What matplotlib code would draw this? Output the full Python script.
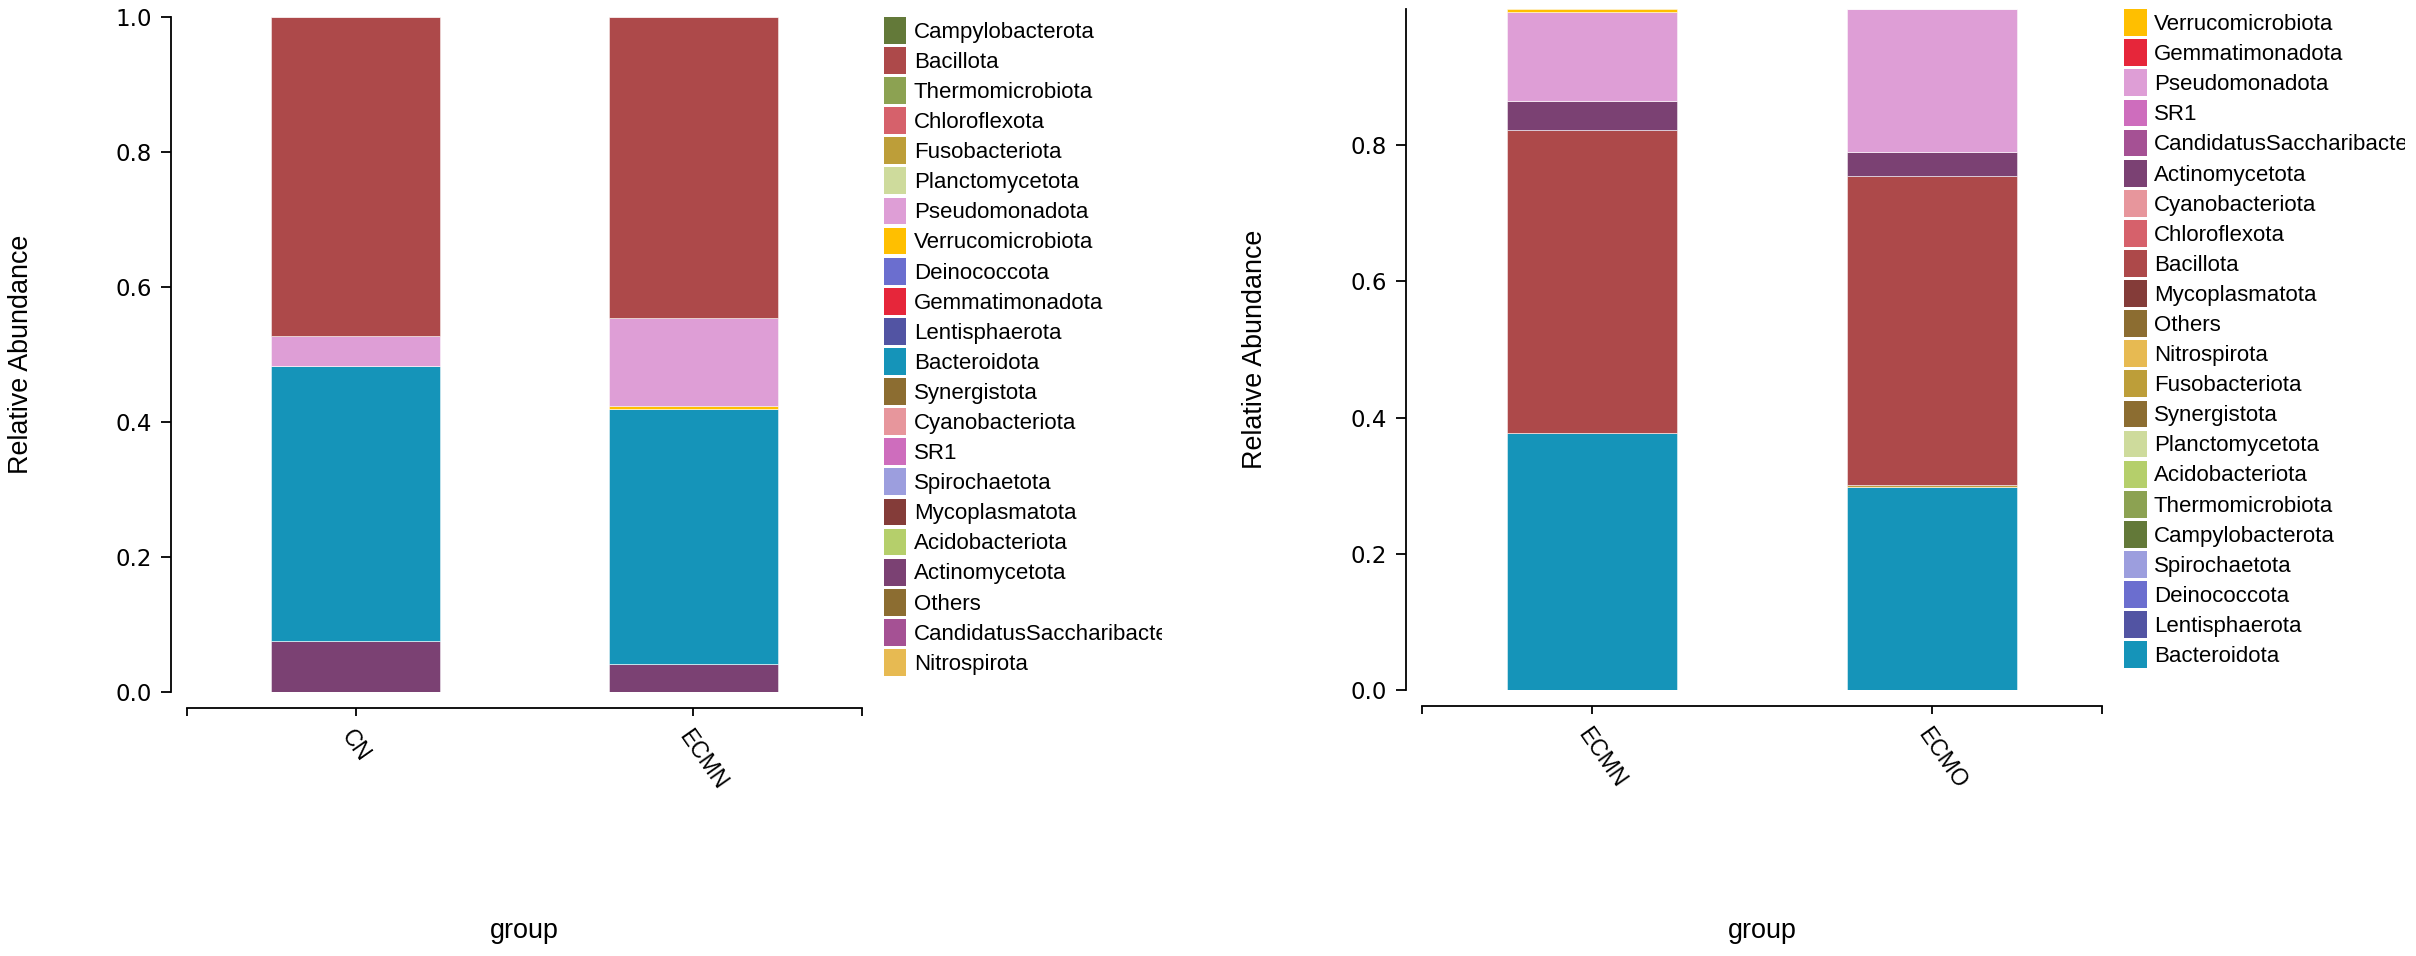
import matplotlib
matplotlib.use("Agg")
import matplotlib.pyplot as plt
from matplotlib.patches import Patch
from matplotlib.transforms import Bbox

# 1. Data (relative abundance per group)
groups = ["CN", "ECMN", "ECMO"]

bacillota = [0.473, 0.446, 0.454]
bacteroidota = [0.4075, 0.377, 0.2985]
pseudomonadota = [0.0445, 0.131, 0.2096]
actinomycetota = [0.075, 0.042, 0.0355]
verrucomicrobiota = [0.0, 0.004, 0.0]
fusobacteriota = [0.0, 0.0, 0.002]
tiny = [0.0, 0.0, 0.0]  # phyla too small to see in either panel

abund = {
    "Campylobacterota": tiny, "Bacillota": bacillota, "Thermomicrobiota": tiny,
    "Chloroflexota": tiny, "Fusobacteriota": fusobacteriota, "Planctomycetota": tiny,
    "Pseudomonadota": pseudomonadota, "Verrucomicrobiota": verrucomicrobiota,
    "Deinococcota": tiny, "Gemmatimonadota": tiny, "Lentisphaerota": tiny,
    "Bacteroidota": bacteroidota, "Synergistota": tiny, "Cyanobacteriota": tiny,
    "SR1": tiny, "Spirochaetota": tiny, "Mycoplasmatota": tiny,
    "Acidobacteriota": tiny, "Actinomycetota": actinomycetota, "Others": tiny,
    "CandidatusSaccharibacteria": tiny, "Nitrospirota": tiny,
}

colors = {
    "Campylobacterota": "#637939", "Bacillota": "#ad494a", "Thermomicrobiota": "#8ca252",
    "Chloroflexota": "#d6616b", "Fusobacteriota": "#bd9e39", "Planctomycetota": "#cedb9c",
    "Pseudomonadota": "#de9ed6", "Verrucomicrobiota": "#ffbf00", "Deinococcota": "#6b6ecf",
    "Gemmatimonadota": "#e6263a", "Lentisphaerota": "#5254a3", "Bacteroidota": "#1594b9",
    "Synergistota": "#8c6d31", "Cyanobacteriota": "#e7969c", "SR1": "#ce6dbd",
    "Spirochaetota": "#9c9ede", "Mycoplasmatota": "#843c39", "Acidobacteriota": "#b5cf6b",
    "Actinomycetota": "#7b4173", "Others": "#8c6d31", "CandidatusSaccharibacteria": "#a55194",
    "Nitrospirota": "#e7ba52",
}

# legend order, top to bottom (stack order is the reverse)
left_legend = ["Campylobacterota", "Bacillota", "Thermomicrobiota", "Chloroflexota",
               "Fusobacteriota", "Planctomycetota", "Pseudomonadota", "Verrucomicrobiota",
               "Deinococcota", "Gemmatimonadota", "Lentisphaerota", "Bacteroidota",
               "Synergistota", "Cyanobacteriota", "SR1", "Spirochaetota", "Mycoplasmatota",
               "Acidobacteriota", "Actinomycetota", "Others", "CandidatusSaccharibacteria",
               "Nitrospirota"]
right_legend = ["Verrucomicrobiota", "Gemmatimonadota", "Pseudomonadota", "SR1",
                "CandidatusSaccharibacteria", "Actinomycetota", "Cyanobacteriota",
                "Chloroflexota", "Bacillota", "Mycoplasmatota", "Others", "Nitrospirota",
                "Fusobacteriota", "Synergistota", "Planctomycetota", "Acidobacteriota",
                "Thermomicrobiota", "Campylobacterota", "Spirochaetota", "Deinococcota",
                "Lentisphaerota", "Bacteroidota"]

plt.rcParams["font.family"] = ["Liberation Sans", "DejaVu Sans"]

W, H = 2416, 956
fig = plt.figure(figsize=(W / 100, H / 100), dpi=100)


def panel(rect, grp, legend_order, ytop, clip_x):
    ax = fig.add_axes(rect)
    # spines first: set_position resets the tick objects
    for s in ["top", "right"]:
        ax.spines[s].set_visible(False)
    for s in ["left", "bottom"]:
        ax.spines[s].set_position(("outward", 11.5))
        ax.spines[s].set_linewidth(1.3)

    idx = [groups.index(g) for g in grp]
    x = list(range(len(grp)))
    bottom = [0.0] * len(grp)
    for name in reversed(legend_order):
        vals = [abund[name][i] for i in idx]
        ax.bar(x, vals, width=0.5, bottom=bottom, color=colors[name],
               edgecolor=(1, 1, 1, 0.55), linewidth=0.6)
        bottom = [b + v for b, v in zip(bottom, vals)]

    ax.set_xlim(-0.5, len(grp) - 0.5)
    ax.set_ylim(0, ytop)
    yt = [t for t in [0.0, 0.2, 0.4, 0.6, 0.8, 1.0] if t <= ytop]
    ax.set_yticks(yt)
    ax.set_yticklabels([f"{t:.1f}" for t in yt], fontfamily="DejaVu Sans", fontsize=16.5)
    ax.set_xticks(x)
    ax.set_xticklabels(grp, rotation=-55, ha="left", va="top",
                       rotation_mode="anchor", fontsize=16.5)
    ax.set_xticks([-0.5, len(grp) - 0.5], minor=True)

    ax.tick_params(axis="y", length=7, width=1.3, pad=7)
    ax.tick_params(axis="x", which="both", length=5.8, width=1.3, pad=7)

    ax.set_ylabel("Relative Abundance", fontsize=19.4, va="center")
    ax.yaxis.set_label_coords(-0.246, 0.5)
    ax.set_xlabel("group", fontsize=19.4, va="center")
    ax.xaxis.set_label_coords(0.5, -0.354)

    handles = [Patch(facecolor=colors[n]) for n in legend_order]
    leg = ax.legend(handles, legend_order, loc="upper left", bbox_to_anchor=(1.032, 1.0),
                    frameon=False, fontsize=16, borderpad=0, borderaxespad=0,
                    handlelength=1.03, handleheight=1.479, labelspacing=0.148,
                    handletextpad=0.33)
    # the long name is cut at the edge of each panel, as in the reference
    for t in leg.get_texts():
        t.set_clip_box(Bbox.from_extents(0, 0, clip_x, H))
        t.set_clip_on(True)
    return ax


panel([187 / W, 1 - 692 / H, 675 / W, 675 / H], ["CN", "ECMN"], left_legend, 1.0, 1162)
panel([1422 / W, 1 - 690 / H, 680 / W, 680.7 / H], ["ECMN", "ECMO"], right_legend,
      0.9996, 2405)

fig.savefig("out.png", dpi=100)
